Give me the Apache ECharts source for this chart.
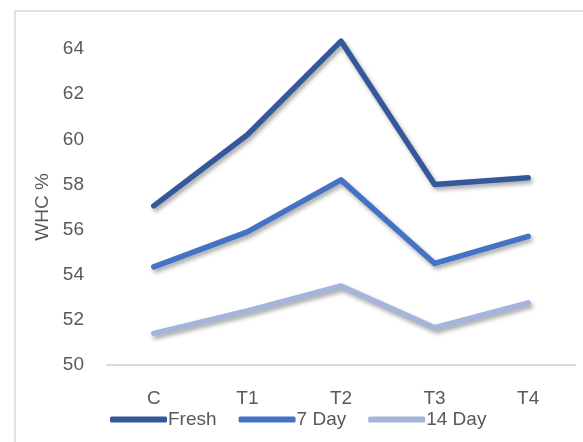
<!DOCTYPE html>
<html><head><meta charset="utf-8">
<script src="https://cdn.jsdelivr.net/npm/echarts@6/dist/echarts.min.js"></script>
<style>html,body{margin:0;padding:0;background:#fff}#c{width:583px;height:442px}</style>
</head><body><div id="c"></div>
<script>
const categories = ['C', 'T1', 'T2', 'T3', 'T4'];
const fresh = [57.05, 60.2, 64.35, 58.0, 58.3];
const day7 = [54.35, 55.9, 58.2, 54.5, 55.7];
const day14 = [51.4, 52.4, 53.5, 51.65, 52.75];
const seriesNames = ['Fresh', '7 Day', '14 Day'];
const yTicks = {min: 50, max: 64, interval: 2};

const font = '"Liberation Sans", "Open Sans", sans-serif';
const colors = ['#34589a', '#4472c4', '#a5b4da'];
const chart = echarts.init(document.getElementById('c'), null, {renderer: 'canvas'});
const mk = (name, data, i) => ({
  name, type: 'line', data, symbol: 'none', clip: false,
  lineStyle: {width: 5.5, color: colors[i], cap: 'round', join: 'round',
    shadowColor: 'rgba(0,0,0,0.35)', shadowBlur: 4, shadowOffsetX: 2, shadowOffsetY: 3},
  itemStyle: {color: colors[i]}
});
chart.setOption({
  animation: false,
  textStyle: {fontFamily: font},
  graphic: [{type: 'rect', shape: {x: 15, y: 11, width: 600, height: 460},
    style: {fill: 'none', stroke: '#d9d9d9', lineWidth: 1.5}, silent: true}],
  grid: {left: 107, right: 8, top: 49, bottom: 77},
  xAxis: {type: 'category', data: categories, boundaryGap: true,
    axisLine: {lineStyle: {color: '#d9d9d9', width: 2}}, axisTick: {show: false},
    axisLabel: {color: '#595959', fontSize: 19, margin: 24, fontFamily: font}},
  yAxis: {type: 'value', min: yTicks.min, max: yTicks.max, interval: yTicks.interval,
    name: 'WHC %', nameLocation: 'middle', nameGap: 51, nameRotate: 90,
    nameTextStyle: {color: '#595959', fontSize: 19, fontFamily: font},
    axisLine: {show: false}, axisTick: {show: false}, splitLine: {show: false},
    axisLabel: {color: '#595959', fontSize: 19, margin: 23, fontFamily: font}},
  legend: {bottom: 8, left: 105, itemWidth: 57, itemHeight: 6, itemGap: 22,
    icon: 'roundRect', textStyle: {color: '#595959', fontSize: 19, padding: [0,0,0,-4], fontFamily: font},
    data: seriesNames},
  series: [mk(seriesNames[0], fresh, 0), mk(seriesNames[1], day7, 1), mk(seriesNames[2], day14, 2)]
});
</script></body></html>
